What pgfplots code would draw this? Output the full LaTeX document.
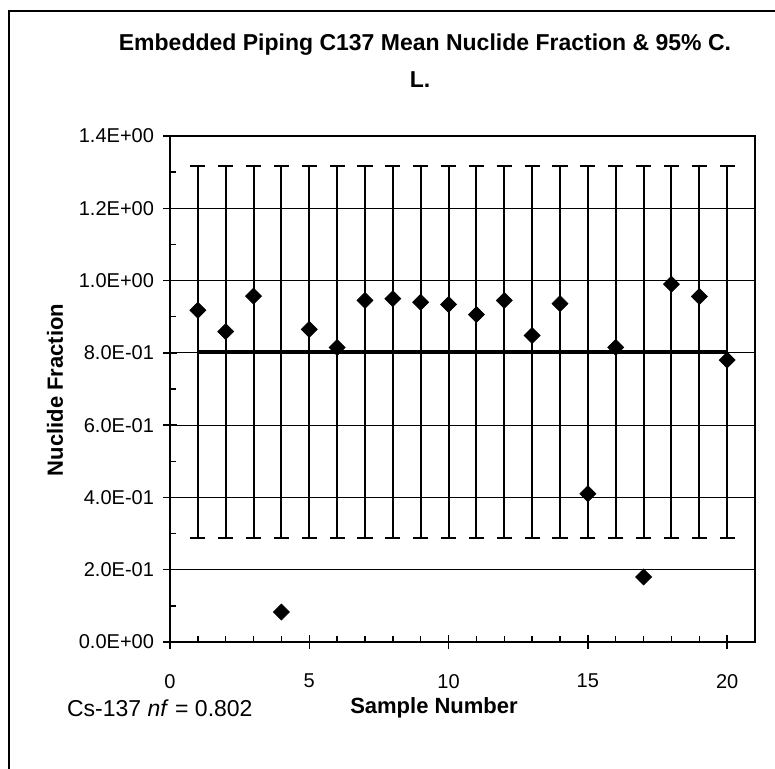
\documentclass[border=0pt]{standalone}
\usepackage{fontspec}
\setmainfont{Liberation Sans}
\usepackage{pgfplots}
\usepackage{pgfplotstable}
\pgfplotsset{compat=1.18}

% sample means, Cs-137 nuclide fraction
\pgfplotstableread{
n   nf
1   0.918
2   0.859
3   0.957
4   0.083
5   0.865
6   0.815
7   0.945
8   0.950
9   0.940
10  0.934
11  0.906
12  0.945
13  0.848
14  0.936
15  0.410
16  0.815
17  0.180
18  0.990
19  0.956
20  0.780
}\samples

\begin{document}
\begin{tikzpicture}[x=1pt,y=1pt]
  \useasboundingbox (-85,-63) rectangle (302.5,321);
  % chart area border (only top and left show)
  \draw[line width=0.8pt] (-80.5,-70) -- (-80.5,315.5) -- (310,315.5);
  \begin{axis}[
      at={(0,0)}, anchor=south west,
      scale only axis,
      width=292.5pt, height=253pt,
      xmin=0, xmax=21, ymin=0, ymax=1.4,
      axis line style={line width=0.9pt},
      xtick pos=bottom, ytick pos=left,
      xtick={0,5,10,15,20},
      xticklabels={0,5,10,15,20},
      minor xtick={1,2,3,4,6,7,8,9,11,12,13,14,16,17,18,19},
      ytick={0,0.2,0.4,0.6,0.8,1.0,1.2,1.4},
      yticklabels={0.0E+00,2.0E-01,4.0E-01,6.0E-01,8.0E-01,1.0E+00,1.2E+00,1.4E+00},
      minor ytick={0.1,0.3,0.5,0.7,0.9,1.1,1.3},
      tick align=center,
      major tick length=7pt,
      minor tick length=3pt,
      tick style={black, line width=0.7pt},
      minor x tick style={yshift=1.5pt},
      minor y tick style={xshift=1.5pt},
      ymajorgrids=true,
      major grid style={black, line width=0.5pt},
      ticklabel style={font=\fontsize{10}{12}\selectfont},
      xticklabel style={yshift=-9pt},
      yticklabel style={xshift=-1pt},
      clip=false,
    ]
    % mean nuclide fraction with 95% C.L.
    \addplot[black, line width=1.7pt, no marks] coordinates {(1,0.802) (20,0.802)};
    \addplot[draw=none, forget plot,
      error bars/.cd, y dir=both, y explicit,
      error bar style={black, line width=1pt},
      error mark options={black, rotate=90, line width=1pt, mark size=3.8pt}]
      table[x=n, y expr=0.802, y error expr=0.515] {\samples};
    \addplot[only marks, mark=square*, mark size=2.8pt,
      mark options={black, fill=black, rotate=45}]
      table[x=n, y=nf] {\samples};
  \end{axis}
  \node[font=\fontsize{11.5}{13}\selectfont\bfseries] at (127.5,298.5)
    {Embedded Piping C137 Mean Nuclide Fraction \& 95\% C.};
  \node[font=\fontsize{11.5}{13}\selectfont\bfseries] at (125,281) {L.};
  \node[font=\fontsize{11}{13}\selectfont\bfseries, rotate=90] at (-57.5,126) {Nuclide Fraction};
  \node[font=\fontsize{11}{13}\selectfont\bfseries] at (132,-33) {Sample Number};
  \node[font=\fontsize{11.5}{13}\selectfont, anchor=west] at (-55,-33) {Cs-137 \textit{nf} = 0.802};
\end{tikzpicture}
\end{document}
